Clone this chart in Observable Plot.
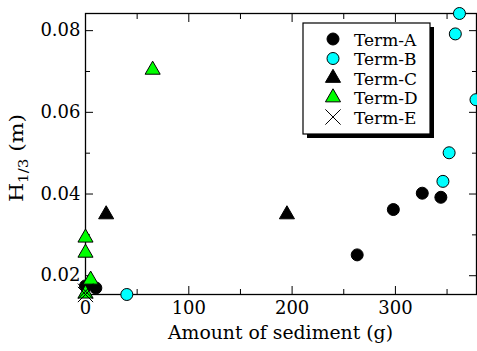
<!DOCTYPE html>
<html><head><meta charset="utf-8">
<script src="https://cdn.jsdelivr.net/npm/d3@7"></script>
<script src="https://cdn.jsdelivr.net/npm/@observablehq/plot@0.6"></script>
<style>
body{margin:0;background:#fff}
svg text, svg tspan { font-family: "DejaVu Serif" !important; }
</style>
</head><body><div id="chart"></div>
<script>
const seriesNames = ["Term-A", "Term-B", "Term-C", "Term-D", "Term-E"];
const termA_x = [0, 10, 263, 298, 326, 344];
const termA_y = [0.0175, 0.0170, 0.0251, 0.0362, 0.0402, 0.0392];
const termB_x = [40, 346, 352, 358, 362, 378];
const termB_y = [0.0154, 0.0431, 0.0501, 0.0792, 0.0842, 0.0631];
const termC_x = [20, 195];
const termC_y = [0.0350, 0.0350];
const termD_x = [0, 0, 5, 65, 0];
const termD_y = [0.0293, 0.0256, 0.0190, 0.0704, 0.0156];
const termE_x = [0, 0];
const termE_y = [0.0162, 0.0154];
const xMajor = [0, 100, 200, 300];
const xMinor = [50, 150, 250, 350];
const yMajor = [0.02, 0.04, 0.06, 0.08];
const yMinor = [0.03, 0.05, 0.07];
const xLabel = "Amount of sediment (g)";

const styles = [
  {symbol: "circle", fill: "black", stroke: "black", r: 6},
  {symbol: "circle", fill: "#00ffff", stroke: "black", r: 6},
  {symbol: "triangle", fill: "black", stroke: "black", r: 5.6},
  {symbol: "triangle", fill: "#00ff00", stroke: "black", r: 5.6},
  {symbol: "times", fill: "none", stroke: "black", r: 7}
];
const series = [
  [termA_x, termA_y], [termB_x, termB_y], [termC_x, termC_y], [termD_x, termD_y], [termE_x, termE_y]
].map(([xs, ys]) => xs.map((x, i) => ({x, y: ys[i]})));

const font = "DejaVu Serif";
const plot = Plot.plot({
  width: 477, height: 351,
  marginLeft: 85, marginRight: 1, marginTop: 13, marginBottom: 57,
  style: {fontFamily: font, fontSize: "18px", color: "black", background: "white", overflow: "visible"},
  x: {domain: [0, 378.5]},
  y: {domain: [0.0154, 0.0842]},
  marks: [
    Plot.axisX(xMajor, {anchor: "bottom", tickSize: -8, tickPadding: 15, tickFormat: d => String(d), label: null, fontSize: 18, fontFamily: font}),
    Plot.axisX(xMinor, {anchor: "bottom", tickSize: -5, tickFormat: () => "", label: null}),
    Plot.axisX(xMajor, {anchor: "top", tickSize: -8, tickFormat: () => "", label: null}),
    Plot.axisX(xMinor, {anchor: "top", tickSize: -5, tickFormat: () => "", label: null}),
    Plot.axisY(yMajor, {anchor: "left", tickSize: -8, tickPadding: 13, tickFormat: d => d.toFixed(2), label: null, fontSize: 18, fontFamily: font}),
    Plot.axisY(yMinor, {anchor: "left", tickSize: -5, tickFormat: () => "", label: null}),
    Plot.axisY(yMajor, {anchor: "right", tickSize: -8, tickFormat: () => "", label: null}),
    Plot.axisY(yMinor, {anchor: "right", tickSize: -5, tickFormat: () => "", label: null}),
    Plot.frame({stroke: "black", strokeWidth: 1.3}),
    ...series.map((data, i) => Plot.dot(data, {x: "x", y: "y", ...styles[i], strokeWidth: 1}))
  ]
});
plot.setAttribute("font-family", font);
document.getElementById("chart").appendChild(plot);

const svg = d3.select(plot);
// x label
svg.append("text").attr("x", 280.5).attr("y", 339).attr("text-anchor", "middle")
  .attr("font-family", font).attr("font-size", 18).attr("fill", "black")
  .attr("textLength", 225).attr("lengthAdjust", "spacingAndGlyphs").text(xLabel);
// y label
const yl = svg.append("text").attr("transform", "translate(23,158) rotate(-90)").attr("text-anchor", "middle")
  .attr("font-family", font).attr("font-size", 19).attr("fill", "black")
  .attr("textLength", 88).attr("lengthAdjust", "spacingAndGlyphs");
yl.append("tspan").text("H");
yl.append("tspan").attr("font-size", 13).attr("dy", 5).text("1/3");
yl.append("tspan").attr("dy", -5).text(" (m)");

// legend
const lg = svg.append("g");
lg.append("rect").attr("x", 307).attr("y", 27).attr("width", 127).attr("height", 111).attr("fill", "black");
lg.append("rect").attr("x", 303).attr("y", 23).attr("width", 127).attr("height", 111)
  .attr("fill", "white").attr("stroke", "black").attr("stroke-width", 1.2);
const symMap = {circle: d3.symbolCircle, triangle: d3.symbolTriangle, times: d3.symbolTimes};
seriesNames.forEach((name, i) => {
  const cy = 39 + i * 19.5;
  const s = styles[i];
  lg.append("path").attr("transform", `translate(333,${cy})`)
    .attr("d", d3.symbol(symMap[s.symbol], s.r * s.r * Math.PI)())
    .attr("fill", s.fill).attr("stroke", s.stroke).attr("stroke-width", 1);
  lg.append("text").attr("x", 354).attr("y", cy + 6.5).attr("text-anchor", "start")
    .attr("font-family", font).attr("font-size", 17).attr("fill", "black").text(name);
});
</script></body></html>
